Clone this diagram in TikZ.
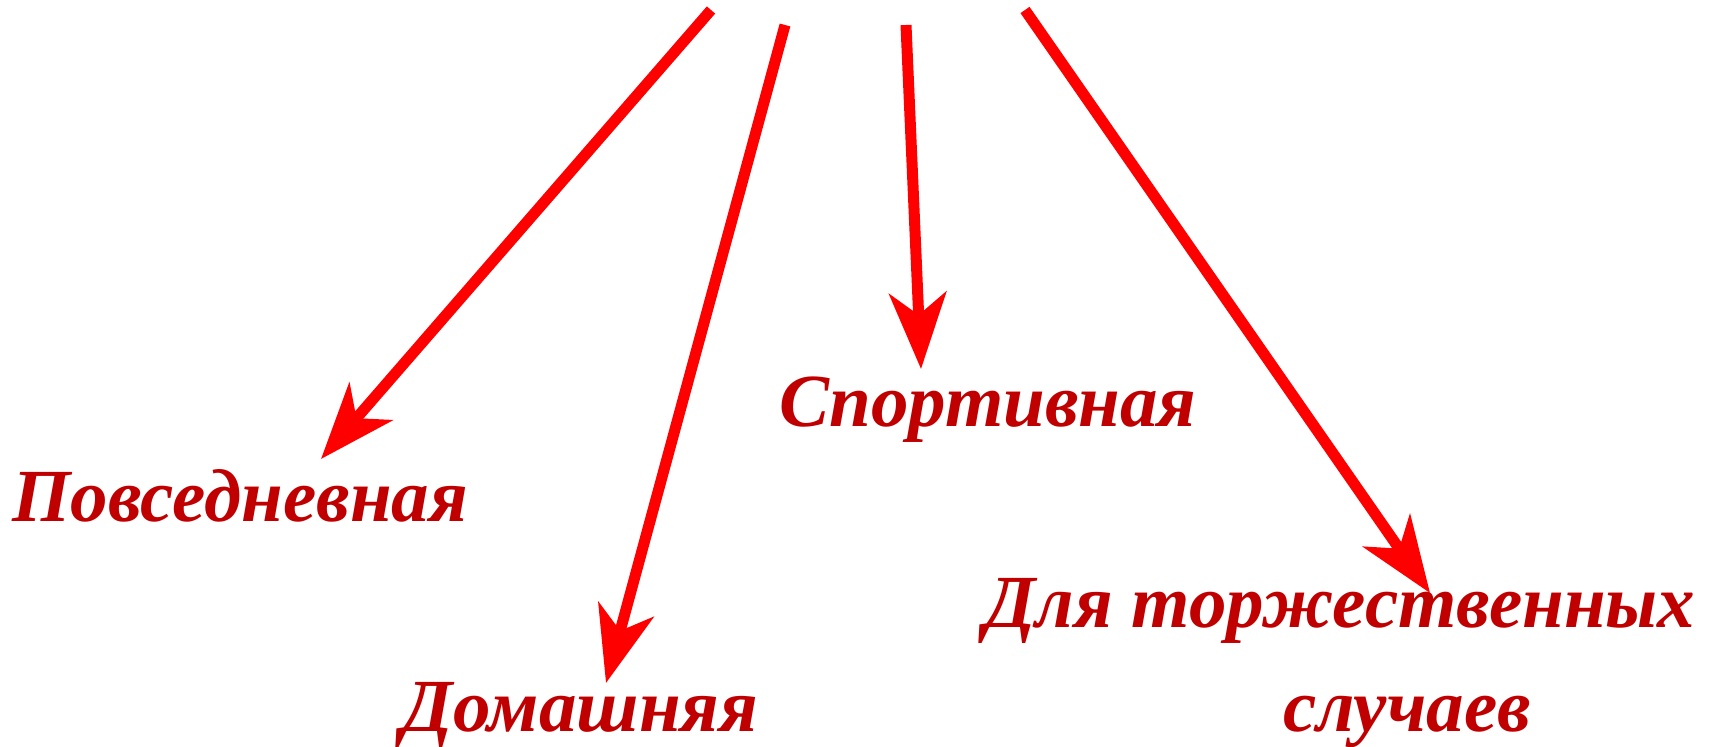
\documentclass[tikz,border=0pt]{standalone}
\usepackage{fontspec}
\setmainfont{Liberation Serif}
\usetikzlibrary{arrows.meta}
\definecolor{arrowred}{RGB}{255,0,0}
\definecolor{labelred}{RGB}{192,0,0}

\begin{document}
\begin{tikzpicture}[x=0.5pt,y=-0.5pt,
      pointer/.style={
        draw=arrowred,line width=5.5pt,-{Stealth[length=38pt,width=28.5pt,inset=11pt]}
      },
      kind/.style={
        text=labelred,font=\fontsize{37.5}{45}\selectfont\bfseries\itshape,anchor=base,inner sep=0pt
      }
    ]
    \useasboundingbox (0,0) rectangle (1714,747);
    \coordinate (s1) at (711,10);
    \coordinate (s2) at (785,25);
    \coordinate (s3) at (906,25);
    \coordinate (s4) at (1025,10);
    \coordinate (t1) at (321,459);
    \coordinate (t2) at (606,683);
    \coordinate (t3) at (921,369);
    \coordinate (t4) at (1430,593);
    \node [kind] (daily) at (240,522) {Повседневная};
    \node [kind] (home) at (580,732) {Домашняя};
    \node [kind] (sport) at (988,427) {Спортивная};
    \node [kind] (formal) at (1340,628) {Для торжественных};
    \node [kind] (formal2) at (1407,732) {случаев};
    \draw [pointer] (s1) -- (t1);
    \draw [pointer] (s2) -- (t2);
    \draw [pointer] (s3) -- (t3);
    \draw [pointer] (s4) -- (t4);
\end{tikzpicture}
\end{document}
